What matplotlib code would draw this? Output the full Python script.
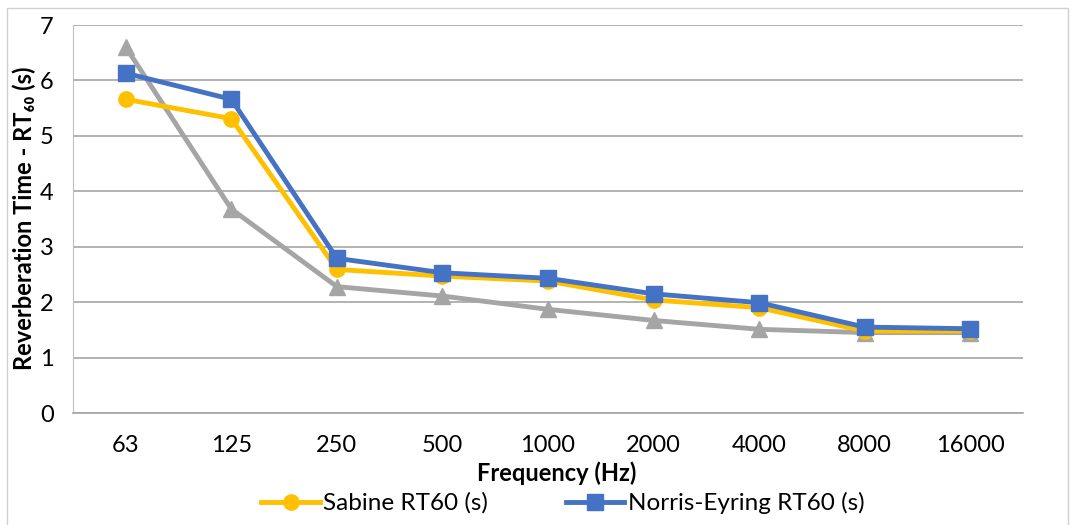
import matplotlib
matplotlib.use("Agg")
import matplotlib.pyplot as plt
from matplotlib.patches import Rectangle

# data
freqs = ["63", "125", "250", "500", "1000", "2000", "4000", "8000", "16000"]
sabine = [5.66, 5.31, 2.59, 2.47, 2.38, 2.04, 1.90, 1.48, 1.48]
norris = [6.13, 5.66, 2.79, 2.53, 2.43, 2.15, 1.99, 1.55, 1.52]
measured = [6.60, 3.68, 2.28, 2.11, 1.87, 1.67, 1.51, 1.45, 1.45]

plt.rcParams['font.family'] = ['Lato', 'DejaVu Sans']

fig = plt.figure(figsize=(10.75, 5.25), dpi=100, facecolor="white")
# outer chart border
fig.patches.append(Rectangle((7/1075, -0.05), 1061/1075, 1.05 - 8/525,
                             transform=fig.transFigure, fill=False,
                             edgecolor="#D0D0D0", lw=1))
ax = fig.add_axes([73/1075, 112/525, 950/1075, 388/525])

x = list(range(len(freqs)))
ax.plot(x, measured, color="#A5A5A5", lw=3.5, marker="^", ms=11, zorder=3)
l1, = ax.plot(x, sabine, color="#FFC000", lw=3.5, marker="o", ms=11, zorder=4,
              label="Sabine RT60 (s)")
l2, = ax.plot(x, norris, color="#4472C4", lw=3.5, marker="s", ms=11, zorder=5,
              label="Norris-Eyring RT60 (s)")

ax.set_xlim(-0.5, len(freqs) - 0.5)
ax.set_ylim(0, 7)
ax.set_xticks(x)
ax.set_xticklabels(freqs)
ax.set_yticks(range(8))
ax.tick_params(axis="both", length=0, labelsize=17, colors="black")
ax.tick_params(axis="y", pad=14)
ax.tick_params(axis="x", pad=16)
ax.yaxis.grid(True, color="#A6A6A6", lw=1.2)
ax.set_axisbelow(True)
for s in ["top", "right"]:
    ax.spines[s].set_visible(False)
ax.spines["left"].set_color("#BFBFBF")
ax.spines["bottom"].set_color("#A6A6A6")
ax.spines["bottom"].set_linewidth(1.2)

fig.text(24/1075, 1 - 218/525, "Reverberation Time - RT\u2086\u2080 (s)", rotation=90,
         ha="center", va="center", fontsize=17, fontweight="bold")
fig.text(557/1075, 1 - 473/525, "Frequency (Hz)", ha="center", va="center",
         fontsize=17, fontweight="bold")

fig.legend(handles=[l1, l2], loc="center", bbox_to_anchor=(563/1075, 1 - 503/525),
           ncol=2, frameon=False, fontsize=17.5, handlelength=2.4,
           handletextpad=0.15, columnspacing=3.2)

fig.savefig("out.png", dpi=100, facecolor="white")
